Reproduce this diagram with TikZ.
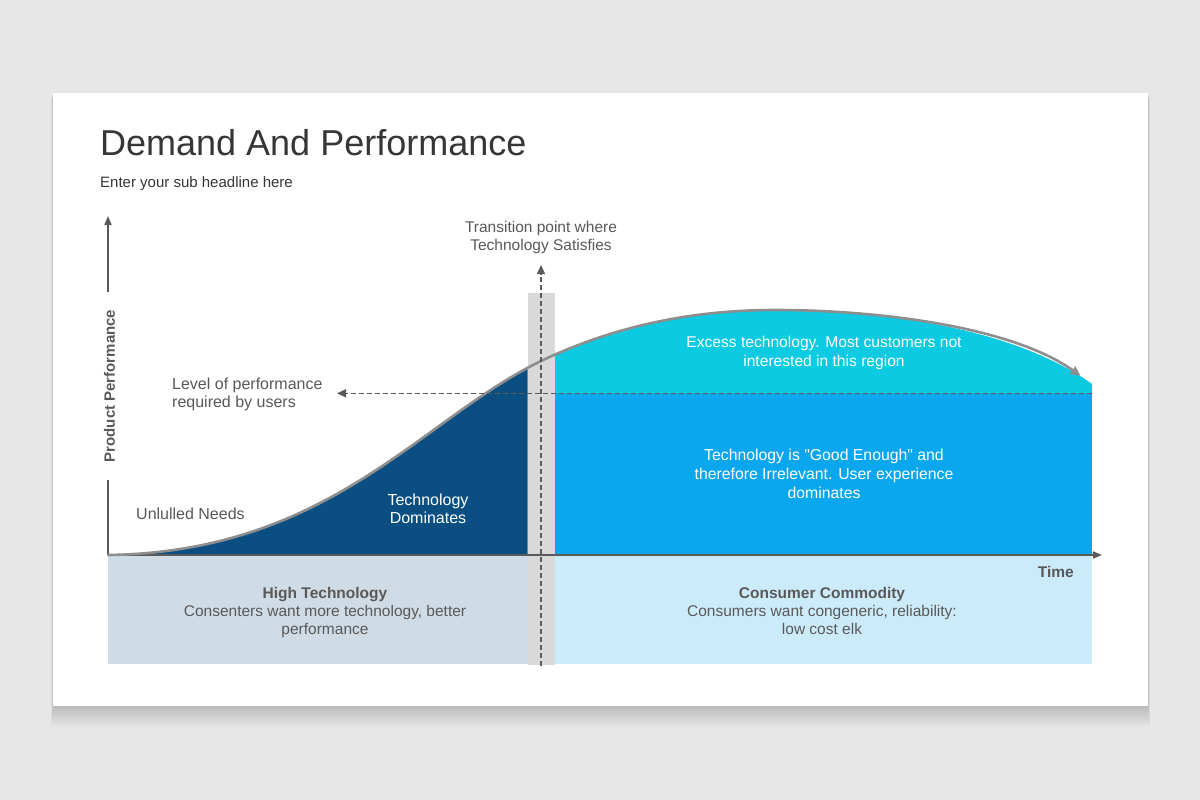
\documentclass[tikz,border=0pt]{standalone}
\usepackage{fontspec}
\setmainfont{Liberation Sans}[Ligatures=TeXOff]
\usetikzlibrary{arrows.meta}
\definecolor{bg}{HTML}{E8E7E8}
\definecolor{navy}{HTML}{0B4F82}
\definecolor{midblue}{HTML}{0AA7EE}
\definecolor{cyanreg}{HTML}{0BCAE2}
\definecolor{boxleft}{HTML}{D0DCE5}
\definecolor{boxright}{HTML}{CCEBFA}
\definecolor{barg}{HTML}{D9D9D9}
\definecolor{curveg}{HTML}{8E8E8E}
\definecolor{txt}{HTML}{595959}
\definecolor{axisg}{HTML}{5A5A5A}
\definecolor{titlec}{HTML}{363636}
\tikzset{
  lbl/.style={inner sep=0pt, text=txt},
  whitelbl/.style={inner sep=0pt, text=white, align=center},
  dashline/.style={draw=axisg, line width=1.5pt, dash pattern=on 5pt off 3pt, -{Triangle[length=9pt,width=8pt]}},
  axisline/.style={draw=axisg, line width=1.6pt},
  curveline/.style={draw=curveg, line width=2.6pt, line cap=round},
}
\begin{document}
\begin{tikzpicture}[x=1pt,y=-1pt]
\useasboundingbox (0,0) rectangle (1200,800);
\fill[bg] (0,0) rectangle (1200,800);
% card shadow
\foreach \i in {1,...,14}
  \fill[black,opacity=0.012] (53-\i*0.15,93+\i*0.4) rectangle (1148+\i*0.15,706+\i*1.5);
\fill[white] (53,93) rectangle (1148,706);

% bottom boxes
\fill[boxleft] (108,555) rectangle (527.7,664);
\fill[boxright] (555,555) rectangle (1092,664);
% transition bar
\fill[barg] (527.7,293) rectangle (555,665);

% regions
\begin{scope}
  \clip (108,250) rectangle (527.7,555);
  \fill[navy] (108,555) .. controls (330,552) and (421,419) .. (541,361)
     .. controls (621,323) and (700,310) .. (775,310)
     .. controls (880,310) and (1012,327) .. (1092,384) -- (1092,555) -- cycle;
\end{scope}
\begin{scope}
  \clip (555,250) rectangle (1092,393.3);
  \fill[cyanreg] (108,555) .. controls (330,552) and (421,419) .. (541,361)
     .. controls (621,323) and (700,310) .. (775,310)
     .. controls (880,310) and (1012,327) .. (1092,384) -- (1092,555) -- cycle;
\end{scope}
\fill[midblue] (555,393.3) rectangle (1092,555);

% axes
\coordinate (origin) at (108,555);
\coordinate (ylow) at (108,480);
\coordinate (yhigh) at (108,292);
\coordinate (ytip) at (108,216);
\coordinate (xtip) at (1102,555);
\draw[axisline] (origin) -- (ylow);
\draw[axisline, -{Triangle[length=9pt,width=7pt]}] (yhigh) -- (ytip);
\draw[axisline, line width=1.8pt, -{Triangle[length=9pt,width=7pt]}] (origin) -- (xtip);

% curve
\draw[curveline, shorten >=14pt, -{Triangle[length=10pt,width=9pt]}]
  (108,555) .. controls (330,552) and (421,419) .. (541,361)
     .. controls (621,323) and (700,310) .. (775,310)
     .. controls (880,310) and (1012,327) .. (1092,384);

% dashed lines
\coordinate (hstart) at (1092,393.3);
\coordinate (hend) at (337,393.3);
\coordinate (vstart) at (541,666);
\coordinate (vend) at (541,265);
\draw[dashline] (hstart) -- (hend);
\draw[dashline] (vstart) -- (vend);

% texts (base anchor = baseline of the last line)
\node[lbl, text=titlec, anchor=base west, font=\fontsize{36}{40}\selectfont] (title) at (100,155) {Demand And Performance};
\node[lbl, text=titlec, anchor=base west, font=\fontsize{15}{18}\selectfont] (sub) at (100,187) {Enter your sub headline here};
\node[lbl, anchor=base, align=center, font=\fontsize{15.5}{18.5}\selectfont] (trans) at (541,250.5) {Transition point where\\Technology Satisfies};
\node[lbl, rotate=90, font=\bfseries\fontsize{15}{18}\selectfont] (ylabel) at (109.5,386) {Product Performance};
\node[lbl, anchor=base west, align=left, font=\fontsize{16}{18.5}\selectfont] (level) at (172,407.5) {Level of performance\\required by users};
\node[lbl, anchor=base west, font=\fontsize{16}{18.5}\selectfont] (unfilled) at (136,519) {Unlulled Needs};
\node[whitelbl, anchor=base, font=\fontsize{16}{18.5}\selectfont] (dominates) at (428,523.5) {Technology\\Dominates};
\node[whitelbl, anchor=base, font=\fontsize{15.6}{19}\selectfont] (excess) at (824,366) {Excess technology. Most customers not\\interested in this region};
\node[whitelbl, anchor=base, font=\fontsize{15.8}{18.8}\selectfont] (good) at (824,498.5) {Technology is "Good Enough" and\\therefore Irrelevant. User experience\\dominates};
\node[lbl, anchor=base east, font=\bfseries\fontsize{15.5}{18}\selectfont] (time) at (1074,577) {Time};
\node[lbl, anchor=base, align=center, font=\fontsize{15.5}{18}\selectfont] (hightech) at (325,634) {\textbf{High Technology}\\Consenters want more technology, better\\performance};
\node[lbl, anchor=base, align=center, font=\fontsize{15.5}{18}\selectfont] (commodity) at (822,634) {\textbf{Consumer Commodity}\\Consumers want congeneric, reliability:\\low cost elk};
\end{tikzpicture}
\end{document}
